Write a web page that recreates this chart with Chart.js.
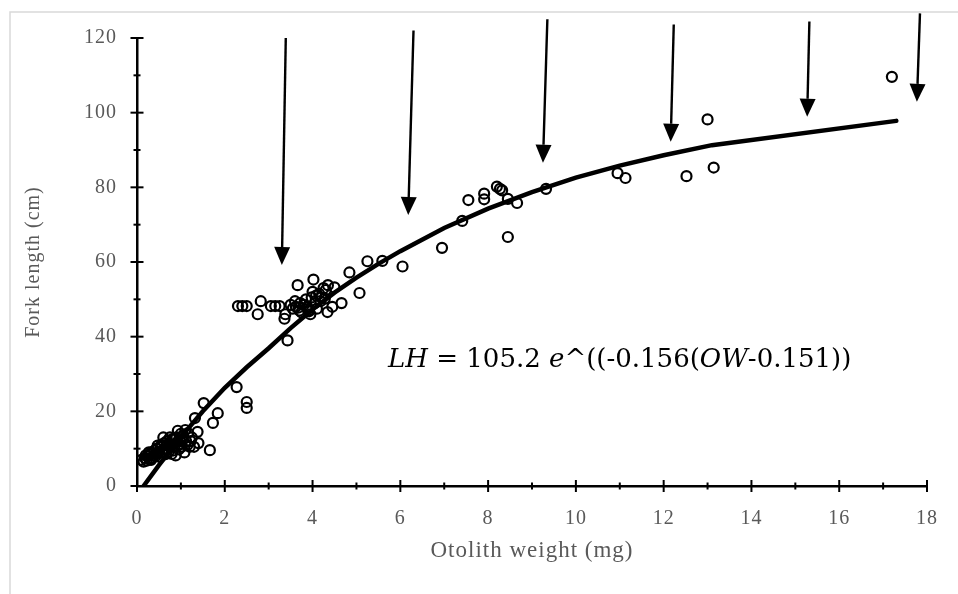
<!DOCTYPE html>
<html>
<head>
<meta charset="utf-8">
<title>Fork length vs otolith weight</title>
<script src="https://cdn.jsdelivr.net/npm/chart.js@4.4.0/dist/chart.umd.min.js"></script>
<style>
  html, body { margin: 0; padding: 0; background: #fff; }
  #wrap { position: relative; width: 958px; height: 594px; }
</style>
</head>
<body>
<div id="wrap"><canvas id="chart" width="958" height="594"></canvas></div>
<script>
// Observed fish: otolith weight (mg) and fork length (cm)
const otolithWeight = [
  0.10, 0.15, 0.18, 0.22, 0.25, 0.28, 0.30, 0.33, 0.35, 0.38, 0.40, 0.42, 0.45, 0.48,
  0.50, 0.52, 0.55, 0.58, 0.60, 0.62, 0.65, 0.68, 0.70, 0.72, 0.75, 0.78, 0.80, 0.82,
  0.85, 0.88, 0.90, 0.92, 0.95, 0.98, 1.00, 1.02, 1.05, 1.08, 1.10, 1.12, 1.15, 1.20,
  1.25, 1.30, 1.32, 1.38, 1.40, 1.52, 1.66, 1.73, 1.84, 2.27, 2.50, 2.50,
  0.20, 0.32, 0.44, 0.56, 0.64, 0.74, 0.86, 0.96, 1.04, 1.16, 0.27, 0.47, 0.67, 0.79, 0.93, 1.22,
  2.30, 2.40, 2.50, 2.75, 2.82, 3.05, 3.15, 3.25, 3.36, 3.38, 3.43, 3.50, 3.55, 3.60,
  3.66, 3.70, 3.75, 3.80, 3.85, 3.90, 3.95, 4.00, 4.02, 4.05, 4.10, 4.15, 4.20, 4.25,
  4.30, 4.34, 4.35, 4.45, 4.50, 4.66, 4.84, 5.07, 5.25, 5.59, 6.05,
  3.62, 3.72, 3.88, 3.98, 4.08, 4.18, 4.28, 3.68, 3.92,
  6.95, 7.41, 7.55, 7.91, 7.91, 8.20, 8.27, 8.32, 8.45, 8.45, 8.66, 9.32,
  10.95, 11.13, 12.52, 13.00, 13.14, 17.20
];
const forkLength = [
  7.0, 6.5, 7.5, 6.8, 8.0, 7.2, 8.5, 9.0, 7.5, 8.2, 9.5, 8.0, 10.0, 8.8,
  9.2, 7.8, 10.5, 9.0, 13.0, 11.5, 8.5, 12.0, 10.0, 9.2, 13.0, 11.0, 12.5, 9.5,
  10.5, 8.2, 13.0, 11.8, 9.8, 12.0, 14.0, 10.5, 13.5, 9.0, 15.0, 12.0, 11.0, 10.5,
  13.0, 10.5, 18.2, 14.5, 11.5, 22.2, 9.6, 16.9, 19.5, 26.5, 22.5, 20.9,
  8.2, 7.0, 8.6, 11.0, 9.8, 11.2, 12.8, 11.0, 12.5, 14.2, 9.0, 10.8, 10.8, 8.6, 14.8, 12.0,
  48.2, 48.2, 48.2, 46.0, 49.5, 48.2, 48.2, 48.2, 44.8, 46.0, 39.0, 48.5, 47.5, 49.5,
  53.8, 47.0, 46.5, 48.5, 50.0, 47.0, 46.0, 52.0, 55.3, 49.0, 47.5, 51.5, 50.5, 53.0,
  52.5, 46.6, 53.8, 48.0, 53.2, 49.0, 57.2, 51.7, 60.2, 60.3, 58.8,
  48.0, 49.0, 48.0, 50.5, 51.0, 49.5, 50.2, 47.8, 46.8,
  63.8, 71.0, 76.6, 78.3, 76.8, 80.2, 79.6, 79.2, 76.9, 66.7, 75.8, 79.6,
  83.8, 82.5, 83.0, 98.2, 85.3, 109.6
];

// Fitted growth curve as drawn
const fitWeight = [0.15, 0.5, 1.0, 1.5, 2.0, 2.5, 3.0, 3.5, 4.0, 4.5, 5.0, 5.5, 6.0, 7.0, 8.0, 9.0, 10.0, 11.0, 12.0, 13.1, 17.3];
const fitLength = [0, 5.6, 13.1, 20.0, 26.3, 31.8, 36.9, 42.3, 47.3, 51.8, 55.8, 59.5, 62.9, 69.1, 74.3, 78.7, 82.6, 85.8, 88.6, 91.3, 97.8];

// Arrows (data units): tail and tip
const arrowTailX = [3.39, 6.30, 9.35, 12.23, 15.32, 17.84];
const arrowTailY = [120.0, 122.0, 125.0, 123.6, 124.4, 126.6];
const arrowTipX = [3.30, 6.18, 9.25, 12.16, 15.27, 17.77];
const arrowTipY = [59.2, 72.6, 86.6, 92.2, 98.9, 102.9];

// Equation annotation
const eqParts = [
  { text: 'LH', italic: true },
  { text: ' = 105.2 ', italic: false },
  { text: 'e', italic: true },
  { text: '^((-0.156(', italic: false },
  { text: 'OW', italic: true },
  { text: '-0.151))', italic: false }
];
const eqX = 5.72;
const eqY = 31.9;

const xTitle = 'Otolith weight (mg)';
const yTitle = 'Fork length (cm)';

const serif = "'Liberation Serif', 'Times New Roman', serif";
const grey = '#595959';

const points = otolithWeight.map((x, i) => ({ x: x, y: forkLength[i] }));
const fitPoints = fitWeight.map((x, i) => ({ x: x, y: fitLength[i] }));

// Light frame, white background, slightly spaced lettering like the original
const framePlugin = {
  id: 'frame',
  beforeDraw(chart) {
    const ctx = chart.ctx;
    ctx.letterSpacing = '1px';
    ctx.save();
    ctx.fillStyle = '#fff';
    ctx.fillRect(0, 0, chart.width, chart.height);
    ctx.strokeStyle = '#d9d9d9';
    ctx.lineWidth = 1.5;
    ctx.beginPath();
    ctx.moveTo(10, chart.height);
    ctx.lineTo(10, 12);
    ctx.lineTo(chart.width, 12);
    ctx.stroke();
    ctx.restore();
  }
};

// Tick marks that cross the axis line
const crossTicksPlugin = {
  id: 'crossTicks',
  afterDraw(chart) {
    const ctx = chart.ctx;
    const xs = chart.scales.x, ys = chart.scales.y;
    ctx.save();
    ctx.strokeStyle = '#000';
    ctx.lineWidth = 2;
    xs.ticks.forEach((t, i) => {
      const px = xs.getPixelForTick(i);
      const major = t.value % 2 === 0;
      const h = major ? 6 : 3.5;
      ctx.beginPath();
      ctx.moveTo(px, ys.bottom - h);
      ctx.lineTo(px, ys.bottom + h);
      ctx.stroke();
    });
    ys.ticks.forEach((t, i) => {
      const py = ys.getPixelForTick(i);
      const major = t.value % 20 === 0;
      const w = major ? 6.5 : 3.5;
      ctx.beginPath();
      ctx.moveTo(xs.left - w, py);
      ctx.lineTo(xs.left + w, py);
      ctx.stroke();
    });
    ctx.restore();
  }
};

// Arrows pointing down at the curve
const arrowPlugin = {
  id: 'arrows',
  afterDatasetsDraw(chart) {
    const ctx = chart.ctx;
    const xs = chart.scales.x, ys = chart.scales.y;
    ctx.save();
    ctx.strokeStyle = '#000';
    ctx.fillStyle = '#000';
    ctx.lineWidth = 2.4;
    for (let i = 0; i < arrowTipX.length; i++) {
      const x0 = xs.getPixelForValue(arrowTailX[i]);
      const y0 = ys.getPixelForValue(arrowTailY[i]);
      const x1 = xs.getPixelForValue(arrowTipX[i]);
      const y1 = ys.getPixelForValue(arrowTipY[i]);
      const ang = Math.atan2(y1 - y0, x1 - x0);
      const headLen = 18, headHalf = 8;
      const bx = x1 - headLen * Math.cos(ang);
      const by = y1 - headLen * Math.sin(ang);
      ctx.beginPath();
      ctx.moveTo(x0, y0);
      ctx.lineTo(bx, by);
      ctx.stroke();
      ctx.beginPath();
      ctx.moveTo(x1, y1);
      ctx.lineTo(bx + headHalf * Math.sin(ang), by - headHalf * Math.cos(ang));
      ctx.lineTo(bx - headHalf * Math.sin(ang), by + headHalf * Math.cos(ang));
      ctx.closePath();
      ctx.fill();
    }
    ctx.restore();
  }
};

// Equation text
const equationPlugin = {
  id: 'equation',
  afterDraw(chart) {
    const ctx = chart.ctx;
    const xs = chart.scales.x, ys = chart.scales.y;
    let px = xs.getPixelForValue(eqX);
    const py = ys.getPixelForValue(eqY);
    ctx.save();
    ctx.letterSpacing = '0px';
    ctx.fillStyle = '#000';
    ctx.textBaseline = 'alphabetic';
    eqParts.forEach(p => {
      ctx.font = (p.italic ? 'italic ' : '') + "26px 'DejaVu Serif', serif";
      ctx.fillText(p.text, px, py);
      px += ctx.measureText(p.text).width;
    });
    ctx.restore();
  }
};

new Chart(document.getElementById('chart'), {
  type: 'scatter',
  data: {
    datasets: [
      {
        label: 'Fit',
        type: 'line',
        data: fitPoints,
        showLine: true,
        borderColor: '#000',
        borderWidth: 4.5,
        borderCapStyle: 'round',
        pointRadius: 0,
        tension: 0,
        fill: false,
        order: 0
      },
      {
        label: 'Observed',
        data: points,
        pointStyle: 'circle',
        pointRadius: 5,
        borderWidth: 2.2,
        borderColor: '#000',
        backgroundColor: 'rgba(0,0,0,0)',
        order: 1
      }
    ]
  },
  options: {
    responsive: false,
    animation: false,
    layout: { padding: { top: 38, right: 29, left: 0, bottom: 0 } },
    plugins: {
      legend: { display: false },
      tooltip: { enabled: false }
    },
    scales: {
      x: {
        type: 'linear',
        min: 0,
        max: 18,
        afterFit(scale) { scale.height = 108; },
        grid: { display: false, drawTicks: false },
        border: { display: true, color: '#000', width: 2.5 },
        ticks: {
          stepSize: 1,
          padding: 21,
          color: grey,
          font: { family: serif, size: 20 },
          callback: v => (v % 2 === 0 ? String(v) : '')
        },
        title: {
          display: true,
          text: xTitle,
          color: grey,
          font: { family: serif, size: 23 },
          padding: { top: 0, bottom: 29 }
        }
      },
      y: {
        type: 'linear',
        min: 0,
        max: 120,
        afterFit(scale) { scale.width = 137; },
        grid: { display: false, drawTicks: false },
        border: { display: true, color: '#000', width: 2.5 },
        ticks: {
          stepSize: 10,
          padding: 20,
          color: grey,
          font: { family: serif, size: 20 },
          callback: v => (v % 20 === 0 ? String(v) : '')
        },
        title: {
          display: true,
          text: yTitle,
          color: grey,
          font: { family: serif, size: 20 },
          padding: { top: 22, bottom: 0 }
        }
      }
    }
  },
  plugins: [framePlugin, crossTicksPlugin, arrowPlugin, equationPlugin]
});
</script>
</body>
</html>
